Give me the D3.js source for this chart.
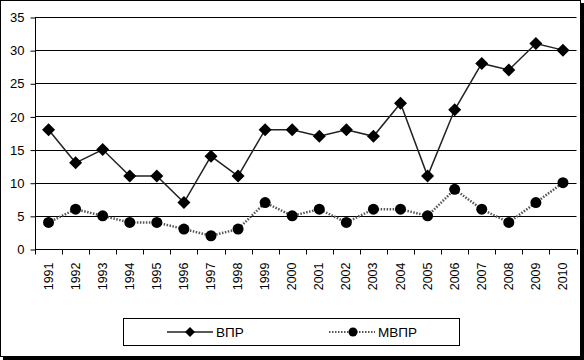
<!DOCTYPE html>
<html><head><meta charset="utf-8">
<script src="https://cdn.jsdelivr.net/npm/d3@7"></script>
<style>body{margin:0;background:#fff}svg{display:block}</style>
</head><body>
<svg id="c" width="584" height="360"></svg>
<script>
const years = ["1991","1992","1993","1994","1995","1996","1997","1998","1999","2000","2001","2002","2003","2004","2005","2006","2007","2008","2009","2010"];
const vpr  = [18,13,15,11,11,7,14,11,18,18,17,18,17,22,11,21,28,27,31,30];
const mvpr = [4,6,5,4,4,3,2,3,7,5,6,4,6,6,5,9,6,4,7,10];
const yTicks = [0,5,10,15,20,25,30,35];
const seriesNames = ["ВПР","МВПР"];

const svg = d3.select("#c");
const font = "Arial, 'Liberation Sans', sans-serif";

// frame with shadow
svg.append("rect").attr("x",3).attr("y",3).attr("width",581).attr("height",357).attr("fill","#000");
svg.append("rect").attr("x",0.5).attr("y",0.5).attr("width",580).attr("height",356).attr("fill","#fff").attr("stroke","#000");

const L=35, R=576.5, T=17, B=249;
const x = d3.scaleBand().domain(years).range([L,R]).padding(0);
const y = d3.scaleLinear().domain([0,35]).range([B,T]);

// gridlines
svg.append("g").selectAll("line").data(yTicks.filter(d=>d>0)).join("line")
  .attr("x1",L).attr("x2",R).attr("y1",d=>Math.round(y(d))+0.5).attr("y2",d=>Math.round(y(d))+0.5)
  .attr("stroke","#000").attr("stroke-width",1);

// y axis
const ya = svg.append("g").attr("transform",`translate(${L+0.5},0.5)`)
  .call(d3.axisLeft(y).tickValues(yTicks).tickSize(5).tickPadding(6).tickFormat(d3.format("d")));
ya.selectAll("text").attr("font-family",font).attr("font-size",13).attr("fill","#000");
ya.selectAll("line,path").attr("stroke","#000");
ya.select(".domain").attr("d",`M0,${T}V${B}`);

// x axis
const xa = svg.append("g").attr("transform",`translate(0,${B+0.5})`);
xa.append("line").attr("x1",L).attr("x2",R).attr("stroke","#000");
const bounds = years.map(d=>x(d)).concat([x(years[years.length-1])+x.bandwidth()]);
xa.selectAll("line.t").data(bounds).join("line").attr("class","t")
  .attr("x1",d=>Math.round(d)+0.5).attr("x2",d=>Math.round(d)+0.5).attr("y1",0).attr("y2",5).attr("stroke","#000");
xa.selectAll("text").data(years).join("text")
  .attr("transform",d=>`translate(${x(d)+x.bandwidth()/2+4},13) rotate(-90)`)
  .attr("text-anchor","end").attr("font-family",font).attr("font-size",12.5).attr("fill","#000")
  .text(d=>d);

const cx = d=>x(d)+x.bandwidth()/2;
const line = d3.line().x((d,i)=>cx(years[i])).y(d=>y(d));

// series МВПР
svg.append("path").datum(mvpr).attr("d",line).attr("fill","none")
  .attr("stroke","#555").attr("stroke-width",2.5).attr("stroke-dasharray","1.5,1.5");
svg.append("g").selectAll("circle").data(mvpr).join("circle")
  .attr("cx",(d,i)=>cx(years[i])).attr("cy",d=>y(d)).attr("r",5.5).attr("fill","#000");

// series ВПР
svg.append("path").datum(vpr).attr("d",line).attr("fill","none")
  .attr("stroke","#222").attr("stroke-width",1.5);
const diamond = s=>`M0,${-s}L${s},0L0,${s}L${-s},0Z`;
svg.append("g").selectAll("path").data(vpr).join("path")
  .attr("transform",(d,i)=>`translate(${cx(years[i])},${y(d)})`).attr("d",diamond(6.5)).attr("fill","#000");

// legend
const lg = svg.append("g");
lg.append("rect").attr("x",123.5).attr("y",318.5).attr("width",336).attr("height",27).attr("fill","#fff").attr("stroke","#000");
const ly = 332;
lg.append("line").attr("x1",167).attr("x2",213).attr("y1",ly).attr("y2",ly).attr("stroke","#222").attr("stroke-width",1.5);
lg.append("path").attr("transform",`translate(190,${ly})`).attr("d",diamond(5)).attr("fill","#000");
lg.append("text").attr("x",216).attr("y",ly+5).attr("font-family",font).attr("font-size",13.5).text(seriesNames[0]);
lg.append("line").attr("x1",329).attr("x2",375).attr("y1",ly).attr("y2",ly).attr("stroke","#555").attr("stroke-width",2).attr("stroke-dasharray","1.5,1.5");
lg.append("circle").attr("cx",353).attr("cy",ly).attr("r",4.5).attr("fill","#000");
lg.append("text").attr("x",378).attr("y",ly+5).attr("font-family",font).attr("font-size",13.5).text(seriesNames[1]);
</script>
</body></html>
